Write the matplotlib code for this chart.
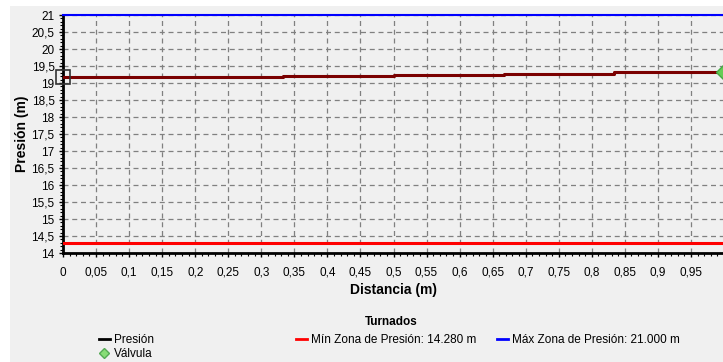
import numpy as np
import matplotlib
matplotlib.use("Agg")
import matplotlib.pyplot as plt
from matplotlib.ticker import FuncFormatter, MultipleLocator
from matplotlib.lines import Line2D
from matplotlib.patches import Rectangle

plt.rcParams['font.family'] = ['Liberation Sans', 'DejaVu Sans']

# Pressure profile along the pipe (one value per tramo)
tramo_inicio = [0.0, 0.167, 0.333, 0.5, 0.667, 0.833]
tramo_fin = 1.0
presion = [19.17, 19.19, 19.22, 19.24, 19.27, 19.33]

valvula_x = [1.0]
valvula_y = [19.33]

min_zona = 14.280
max_zona = 21.000

W, H = 723, 362
fig = plt.figure(figsize=(W / 100, H / 100), dpi=100, facecolor='white')
fig.patches.append(Rectangle((10 / W, 0), 1, 1 - 6 / H, transform=fig.transFigure,
                             facecolor='#f0f0f0', edgecolor='none', zorder=-10))

ax = fig.add_axes([63 / W, (H - 253) / H, (724 - 63) / W, (253 - 15) / H])
ax.set_facecolor('#f0f0f0')

# step line for the pressure
xs = tramo_inicio + [tramo_fin]
ys = presion + [presion[-1]]
ax.step(xs, ys, where='post', color='#7a0000', lw=2.2, zorder=4)
ax.plot(tramo_inicio[0], presion[0], 's', ms=10, mfc='none', mec='#333333', mew=1.2,
        zorder=5, clip_on=False)
ax.plot(valvula_x, valvula_y, 'D', ms=8, mfc='#66cc55', mec='#44aa44', zorder=6,
        clip_on=False)

ax.axhline(min_zona, color='#ff0000', lw=2.2, zorder=3)
ax.axhline(max_zona, color='#0000ff', lw=1.5, zorder=3, clip_on=False)

ax.set_xlim(0, 1.0)
ax.set_ylim(14, 21)
ax.set_xticks(np.arange(0, 0.951, 0.05))
ax.set_yticks(np.arange(14, 21.01, 0.5))
ax.xaxis.set_minor_locator(MultipleLocator(0.01))
ax.yaxis.set_minor_locator(MultipleLocator(0.1))

coma = FuncFormatter(lambda v, p: ('%g' % round(v, 3)).replace('.', ','))
ax.xaxis.set_major_formatter(coma)
ax.yaxis.set_major_formatter(coma)

ax.grid(True, which='major', color='#808080', ls=(0, (4, 3)), lw=0.9)
ax.set_axisbelow(True)

for s in ['top', 'right']:
    ax.spines[s].set_visible(False)
for s in ['left', 'bottom']:
    ax.spines[s].set_linewidth(2)
    ax.spines[s].set_color('black')

ax.tick_params(which='major', direction='out', length=3, width=1, labelsize=8.5,
               colors='black', pad=3)
ax.tick_params(which='minor', direction='out', length=2, width=0.8)
ax.tick_params(axis='x', pad=7)

ax.set_xlabel('Distancia (m)', fontsize=10, fontweight='bold', labelpad=3)
fig.text(22 / W, 1 - 134 / H, 'Presión (m)', rotation=90, fontsize=10,
         fontweight='bold', ha='center', va='center')

fig.text(391 / W, 1 - 322 / H, 'Turnados', fontsize=8.5, fontweight='bold',
         ha='center', va='center')

leg_kw = dict(frameon=False, fontsize=8.5, handlelength=0.9, handletextpad=0.35,
              labelspacing=0.2, borderpad=0, borderaxespad=0)
h_pres = Line2D([], [], color='black', lw=2)
h_valv = Line2D([], [], marker='D', ls='none', ms=5, mfc='#88dd77', mec='#55aa55')
h_min = Line2D([], [], color='#ff0000', lw=2)
h_max = Line2D([], [], color='#0000ff', lw=2)

fig.legend([h_pres, h_valv], ['Presión', 'Válvula'], loc='upper left',
           bbox_to_anchor=(99 / W, 1 - 334 / H), **leg_kw)
fig.legend([h_min], ['Mín Zona de Presión: 14.280 m'], loc='upper left',
           bbox_to_anchor=(296 / W, 1 - 334 / H), **leg_kw)
fig.legend([h_max], ['Máx Zona de Presión: 21.000 m'], loc='upper left',
           bbox_to_anchor=(497 / W, 1 - 334 / H), **leg_kw)

fig.savefig('out.png', dpi=100, facecolor=fig.get_facecolor())
